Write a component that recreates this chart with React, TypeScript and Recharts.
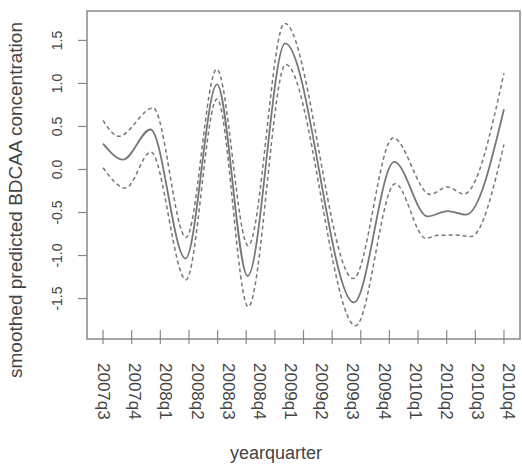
import { LineChart, Line, XAxis, YAxis, ReferenceArea, Label } from 'recharts'

const quarters = [
  '2007q3', '2007q4', '2008q1', '2008q2', '2008q3', '2008q4', '2009q1',
  '2009q2', '2009q3', '2009q4', '2010q1', '2010q2', '2010q3', '2010q4',
]
const yTicks = [-1.5, -1, -0.5, 0, 0.5, 1, 1.5]
const xTicks = [0, 1, 2, 3, 4, 5, 6, 7, 8, 9, 10, 11, 12, 13, 14]

// smoothed fit (solid) read at its turning points
const fitX = [0, 0.7, 1.66, 2.88, 3.98, 5.05, 6.36, 8.76, 10.17, 11.33, 12.03, 12.68, 14]
const fitY = [0.3, 0.115, 0.465, -1.035, 0.99, -1.238, 1.465, -1.545, 0.088, -0.545, -0.483, -0.525, 0.7]

// upper band (dashed)
const upperX = [0, 0.55, 1.75, 2.9, 3.97, 5.07, 6.34, 8.74, 10.13, 11.42, 12.03, 12.6, 14]
const upperY = [0.57, 0.386, 0.715, -0.79, 1.165, -0.885, 1.7, -1.268, 0.367, -0.29, -0.203, -0.285, 1.12]

// lower band (dashed)
const lowerX = [0, 0.79, 1.67, 2.9, 3.98, 5.07, 6.38, 8.82, 10.2, 11.27, 11.7, 12.3, 12.85, 14]
const lowerY = [0.02, -0.215, 0.203, -1.28, 0.82, -1.595, 1.22, -1.815, -0.165, -0.8, -0.765, -0.762, -0.78, 0.29]

const toPoints = (xs: number[], ys: number[]) => xs.map((x, i) => ({ x, y: ys[i] }))

const FONT = 'Liberation Sans, Arial, sans-serif'
const INK = '#444'
const FRAME = '#888'
const LINE = '#777'

const W = 522
const H = 471
const TOP = 11
const LABEL_AXIS_H = 122
const TICK_AXIS_H = 10
const PLOT_BOTTOM = H - LABEL_AXIS_H - TICK_AXIS_H

const X_DOMAIN: [number, number] = [-0.56, 14.56]
const LABEL_DOMAIN: [number, number] = [-0.514, 13.376]
const Y_DOMAIN: [number, number] = [-1.97, 1.842]

// tick marks sit on the bottom frame line, crossing it
function TickMark(props: any) {
  const { x } = props
  return <line x1={x} x2={x} y1={PLOT_BOTTOM - 9} y2={PLOT_BOTTOM + 5} stroke={FRAME} strokeWidth={1.2} />
}

function QuarterTick(props: any) {
  const { x, payload } = props
  const bx = x - 5
  const by = PLOT_BOTTOM + 24
  return (
    <text
      x={bx}
      y={by}
      transform={`rotate(90, ${bx}, ${by})`}
      textAnchor="start"
      fontFamily={FONT}
      fontSize={17}
      fill={INK}
    >
      {quarters[payload.value]}
    </text>
  )
}

function ValueTick(props: any) {
  const { x, y, payload } = props
  const bx = x - 16
  return (
    <text
      x={bx}
      y={y}
      transform={`rotate(-90, ${bx}, ${y})`}
      textAnchor="middle"
      fontFamily={FONT}
      fontSize={14}
      fill={INK}
    >
      {payload.value.toFixed(1)}
    </text>
  )
}

function YTitle() {
  const bx = 22
  const cy = (TOP + PLOT_BOTTOM) / 2 + 25
  return (
    <text
      x={bx}
      y={cy}
      transform={`rotate(-90, ${bx}, ${cy})`}
      textAnchor="middle"
      fontFamily={FONT}
      fontSize={19}
      fill={INK}
    >
      smoothed predicted BDCAA concentration
    </text>
  )
}

function XTitle() {
  return (
    <text x={276} y={459} textAnchor="middle" fontFamily={FONT} fontSize={18} fill={INK}>
      yearquarter
    </text>
  )
}

export default function App() {
  return (
    <div style={{ position: 'absolute', left: 0, top: 0, background: '#fff' }}>
      <LineChart width={W} height={H} margin={{ top: TOP, right: 2, bottom: 0, left: 0 }}>
        <XAxis
          xAxisId="t"
          type="number"
          dataKey="x"
          domain={X_DOMAIN}
          ticks={xTicks}
          allowDataOverflow
          axisLine={false}
          tickLine={false}
          tickSize={0}
          tickMargin={0}
          height={TICK_AXIS_H}
          tick={TickMark}
          interval={0}
        />
        <XAxis
          xAxisId="l"
          type="number"
          dataKey="x"
          domain={LABEL_DOMAIN}
          ticks={xTicks.slice(0, 14)}
          allowDataOverflow
          axisLine={false}
          tickLine={false}
          tickSize={0}
          tickMargin={0}
          height={LABEL_AXIS_H}
          tick={QuarterTick}
          interval={0}
        >
          <Label content={XTitle} />
        </XAxis>
        <YAxis
          type="number"
          domain={Y_DOMAIN}
          ticks={yTicks}
          allowDataOverflow
          width={87}
          axisLine={false}
          tickLine={{ stroke: FRAME, strokeWidth: 1.2 }}
          tickSize={9}
          tickMargin={0}
          tick={ValueTick}
          interval={0}
        >
          <Label content={YTitle} />
        </YAxis>
        <ReferenceArea
          xAxisId="t"
          x1={X_DOMAIN[0]}
          x2={X_DOMAIN[1]}
          y1={Y_DOMAIN[0]}
          y2={Y_DOMAIN[1]}
          fill="none"
          stroke={FRAME}
          strokeWidth={1.5}
          ifOverflow="visible"
        />
        <Line
          xAxisId="t"
          data={toPoints(upperX, upperY)}
          dataKey="y"
          type="monotone"
          stroke={LINE}
          strokeWidth={1.5}
          strokeDasharray="4 3"
          dot={false}
          isAnimationActive={false}
        />
        <Line
          xAxisId="t"
          data={toPoints(lowerX, lowerY)}
          dataKey="y"
          type="monotone"
          stroke={LINE}
          strokeWidth={1.5}
          strokeDasharray="4 3"
          dot={false}
          isAnimationActive={false}
        />
        <Line
          xAxisId="t"
          data={toPoints(fitX, fitY)}
          dataKey="y"
          type="monotone"
          stroke={LINE}
          strokeWidth={1.8}
          dot={false}
          isAnimationActive={false}
        />
      </LineChart>
    </div>
  )
}
